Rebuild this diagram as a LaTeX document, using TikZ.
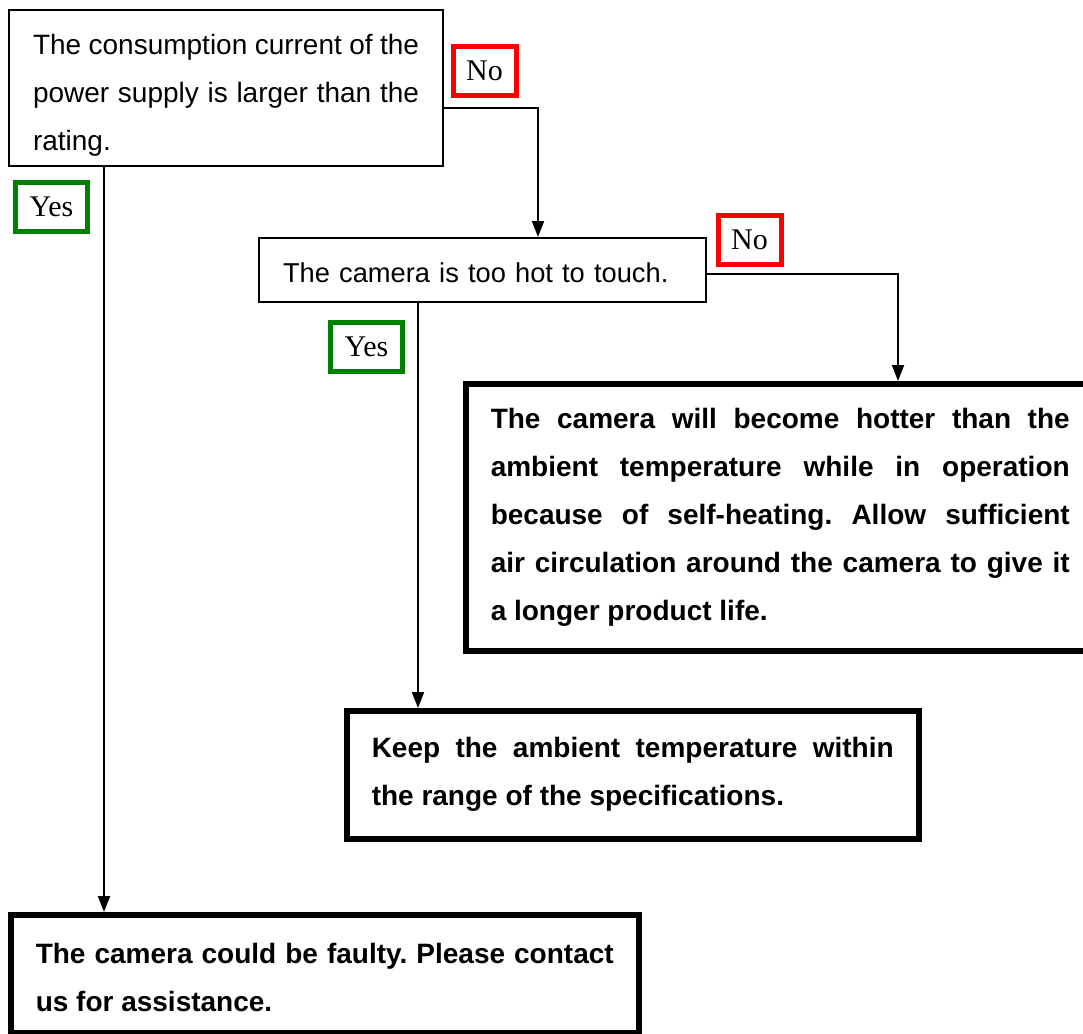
\documentclass[tikz,border=0pt]{standalone}
\usepackage{fontspec}
\setmainfont{Liberation Sans}
\newfontfamily\lblfont{Liberation Serif}
\usetikzlibrary{arrows.meta,calc}
\definecolor{lblred}{RGB}{255,0,0}
\definecolor{lblgreen}{RGB}{0,128,0}
\frenchspacing
\begin{document}
\begin{tikzpicture}[x=1pt,y=-1pt,
  qbox/.style={draw, line width=2pt, anchor=north west, inner xsep=24pt, inner ysep=0pt, align=justify, font=\fontsize{27.3}{48}\selectfont},
  abox/.style={draw, line width=5.5pt, anchor=north west, inner xsep=25pt, inner ysep=0pt, align=justify, font=\bfseries\fontsize{28}{48}\selectfont},
  nolbl/.style={draw=lblred, line width=5pt, minimum width=63pt, minimum height=49pt, inner sep=0pt, font=\lblfont\fontsize{30}{32}\selectfont},
  yeslbl/.style={draw=lblgreen, line width=5pt, minimum width=72pt, minimum height=49pt, inner sep=0pt, font=\lblfont\fontsize{30}{32}\selectfont},
  arr/.style={line width=2pt, -{Triangle[length=16pt,width=12pt]}}]
\useasboundingbox (0,0) rectangle (1083,1033);

\node[qbox, text width=386pt, minimum height=156pt, font=\fontsize{28}{48}\selectfont] (box1) at (8,9)
  {\rule{0pt}{34pt}The consumption current of the\linebreak power supply is larger than the\linebreak rating.};
\node[qbox, align=left, text width=399pt, minimum height=64pt] (box2) at (258,237)
  {\rule{0pt}{26pt}The camera is too hot to touch.};
\node[abox, text width=579pt, minimum height=267pt] (box3) at (463,381)
  {The camera will become hotter than the\linebreak ambient temperature while in operation\linebreak because of self-heating. Allow sufficient\linebreak air circulation around the camera to give it\linebreak a longer product life.};
\node[abox, text width=522pt, minimum height=128pt] (box4) at (344,708)
  {Keep the ambient temperature within\linebreak the range of the specifications.};
\node[abox, text width=578pt, minimum height=118pt] (box5) at (8,912)
  {\rule{0pt}{28pt}The camera could be faulty. Please contact\linebreak us for assistance.};

\node[nolbl] (no1) at (484.5,71) {No};
\node[yeslbl] (yes1) at (51.5,206.5) {Yes};
\node[nolbl] (no2) at (749.5,239.5) {No};
\node[yeslbl] (yes2) at (366.5,346.5) {Yes};

\coordinate (n1s) at ([yshift=-99pt]box1.north east);
\coordinate (n1e) at ([xshift=280pt]box2.north west);
\draw[arr] (n1s) -| (n1e);

\coordinate (y1s) at ([xshift=96pt]box1.south west);
\draw[arr] (y1s) -- (y1s |- box5.north);

\coordinate (n2s) at ([yshift=-37pt]box2.north east);
\coordinate (n2e) at ([xshift=435pt]box3.north west);
\draw[arr] (n2s) -| (n2e);

\coordinate (y2s) at ([xshift=160pt]box2.south west);
\draw[arr] (y2s) -- (y2s |- box4.north);
\end{tikzpicture}
\end{document}
